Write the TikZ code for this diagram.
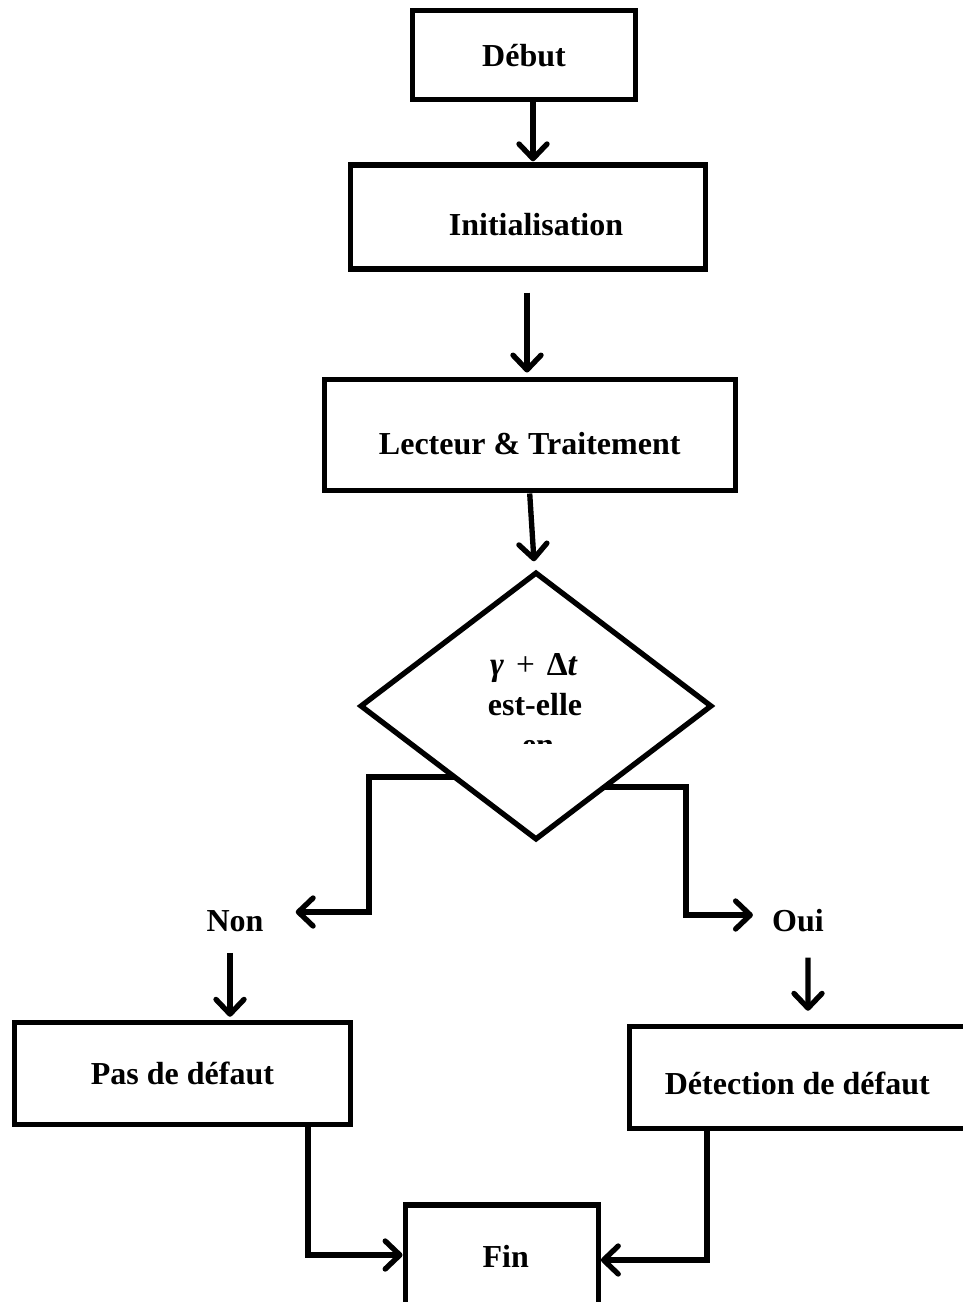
\documentclass[tikz,border=0pt]{standalone}
\usepackage{fontspec}
\setmainfont{Liberation Serif}
\usetikzlibrary{shapes.geometric,arrows.meta,calc,backgrounds}
\begin{document}
\begin{tikzpicture}[x=0.75pt,y=-0.75pt,
  every node/.style={font=\fontsize{24}{30}\selectfont\bfseries, inner sep=0pt},
  stepbox/.style={draw, line width=4pt, fill=white, rectangle, text depth=0pt},
  decision/.style={draw, line width=4pt, fill=white, diamond, aspect=1},
  conn/.style={line width=4pt, -{Straight Barb[length=11pt,width=21pt,round]}},
]
\path[use as bounding box, clip] (0,0) rectangle (963,1302);

% process boxes
\node[stepbox, minimum width=167.25pt, minimum height=66.75pt] (debut) at (524,55) {Début};
\node[stepbox, minimum width=266.25pt, minimum height=78pt, text height=27.5pt] (init) at (528,217) {\hspace*{12pt}Initialisation};
\node[stepbox, minimum width=308.25pt, minimum height=83.7pt, text height=29pt] (lect) at (529.7,435) {Lecteur \& Traitement};
\node[decision, minimum width=264pt, minimum height=201pt] (dia) at (536,706) {};
\node[stepbox, minimum width=252.45pt, minimum height=76.3pt] (pas) at (182.5,1073.3) {Pas de défaut};
\node[stepbox, minimum width=252pt, minimum height=76.3pt, text height=25.5pt] (detect) at (797.3,1077.3) {Détection de défaut};
\node[stepbox, minimum width=144.75pt, minimum height=76.5pt] (fin) at (501.7,1256) {\hspace*{6pt}Fin};

% question text, cut at the bottom
\begin{scope}
  \clip (420,620) rectangle (660,743);
  \node[anchor=base] (q1) at (534,675) {\fontsize{25}{30}\selectfont\textit{γ}\hspace{9pt}{\mdseries +}\hspace{9pt}Δ\textit{t}};
  \node[anchor=base] (q2) at (535,715) {est-elle};
  \node[anchor=base] (q3) at (538,755) {en};
\end{scope}

% branch labels
\node (non) at (235,921) {Non};
\node (oui) at (798,921) {Oui};

\coordinate (lbend) at (369,912);
\coordinate (rbend) at (686,915);

% main chain
\draw[conn] ($(debut.south)+(9,0)$) -- ($(init.north)+(5,-1)$);
\draw[conn] ($(init.south)+(-1,21)$) -- ($(lect.north)+(-2.7,-4)$);
\draw[conn] ($(lect.south)+(0,0)$) -- ($(dia.north)+(-2,-8)$);

% branches leaving the decision, hidden under it
\begin{pgfonlayer}{background}
  \draw[conn] ($(dia.center)+(-40,71)$) -| (lbend) -- ($(non.east)+(32,-9)$);
  \draw[conn] ($(dia.center)+(40,81)$) -| (rbend) -- ($(oui.west)+(-19,-6)$);
\end{pgfonlayer}

\draw[conn] ($(non.south)+(-5,21)$) -- ($(pas.north)+(47.5,-3)$);
\draw[conn] ($(oui.south)+(10,25)$) -- ($(detect.north)+(10.7,-13)$);

% joining at the end
\draw[conn] ($(pas.south)+(125.5,0)$) |- ($(fin.west)+(0,-1)$);
\draw[conn] ($(detect.south)+(-90.3,0)$) |- ($(fin.east)+(0,4)$);
\end{tikzpicture}
\end{document}
